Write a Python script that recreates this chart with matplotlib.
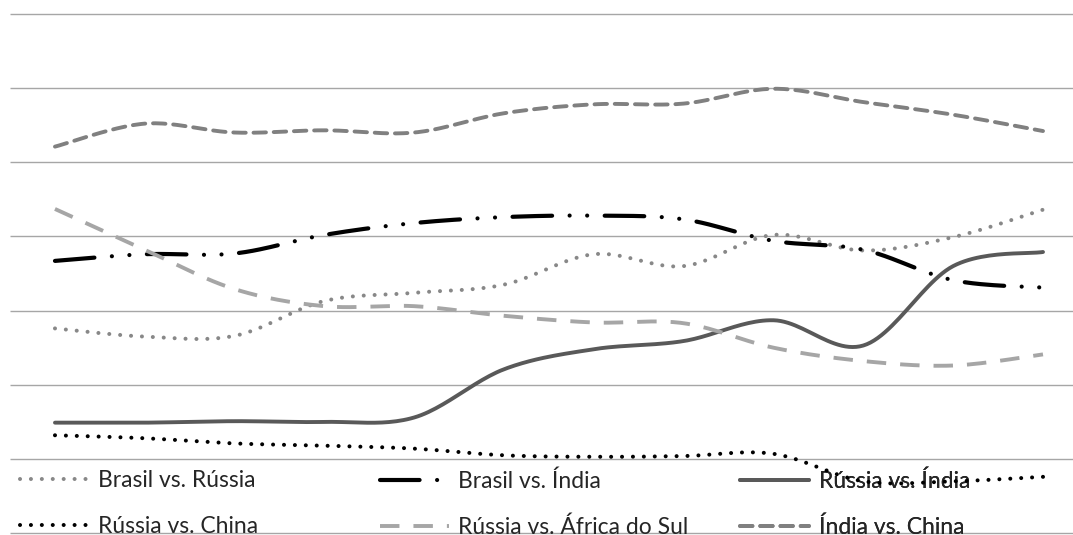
import matplotlib
matplotlib.use("Agg")
import matplotlib.pyplot as plt
import numpy as np

# 12 pontos por série (sem rótulos de categoria visíveis)
n_pts = 12
brasil_russia = [1.76, 1.65, 1.66, 2.13, 2.24, 2.35, 2.76, 2.60, 3.02, 2.81, 2.99, 3.36]
brasil_india = [2.67, 2.76, 2.77, 3.02, 3.18, 3.26, 3.28, 3.23, 2.94, 2.82, 2.41, 2.31]
russia_india = [0.49, 0.49, 0.51, 0.50, 0.56, 1.21, 1.48, 1.59, 1.87, 1.53, 2.60, 2.79]
russia_china = [0.32, 0.28, 0.21, 0.18, 0.14, 0.05, 0.03, 0.04, 0.07, -0.30, -0.30, -0.24]
russia_africa = [3.37, 2.82, 2.29, 2.06, 2.06, 1.93, 1.84, 1.83, 1.50, 1.32, 1.26, 1.41]
india_china = [4.21, 4.52, 4.40, 4.43, 4.40, 4.66, 4.78, 4.79, 4.99, 4.81, 4.64, 4.42]
grid_levels = [-1, 0, 1, 2, 3, 4, 5, 6]


def smooth(y, steps=25):
    # curva suavizada tipo Catmull-Rom, como a opção "linha suavizada"
    x = np.arange(len(y), dtype=float)
    y = np.asarray(y, dtype=float)
    px = np.concatenate([[x[0]], x, [x[-1]]])
    py = np.concatenate([[y[0]], y, [y[-1]]])
    xs, ys = [], []
    t = np.linspace(0, 1, steps, endpoint=False)
    h00 = 2 * t**3 - 3 * t**2 + 1
    h10 = t**3 - 2 * t**2 + t
    h01 = -2 * t**3 + 3 * t**2
    h11 = t**3 - t**2
    for i in range(len(y) - 1):
        mx0 = (px[i + 2] - px[i]) / 2
        mx1 = (px[i + 3] - px[i + 1]) / 2
        my0 = (py[i + 2] - py[i]) / 2
        my1 = (py[i + 3] - py[i + 1]) / 2
        xs.append(h00 * x[i] + h10 * mx0 + h01 * x[i + 1] + h11 * mx1)
        ys.append(h00 * y[i] + h10 * my0 + h01 * y[i + 1] + h11 * my1)
    xs.append([x[-1]])
    ys.append([y[-1]])
    return np.concatenate(xs), np.concatenate(ys)


plt.rcParams["font.family"] = ["Lato", "DejaVu Sans"]
fig = plt.figure(figsize=(10.73, 5.35), dpi=100)
ax = fig.add_axes([0, 0, 1, 1])
ax.set_xlim(-0.612, 11.334)
ax.set_ylim(-1.024, 6.186)
ax.axis("off")

ax.hlines(grid_levels, -0.5, 11.5, color="#a6a6a6", lw=1.0, zorder=1)

series = [
    ("Brasil vs. Rússia", brasil_russia, "#888888", 2.9, (0, (0.01, 2.7)), "round"),
    ("Brasil vs. Índia", brasil_india, "#000000", 3.0, (0, (9.5, 4.2, 0.01, 4.2, 0.01, 4.2)), "round"),
    ("Rússia vs. Índia", russia_india, "#595959", 2.8, "-", "round"),
    ("Rússia vs. China", russia_china, "#000000", 2.9, (0, (0.01, 2.7)), "round"),
    ("Rússia vs. África do Sul", russia_africa, "#a6a6a6", 2.8, (0, (5.0, 3.6)), "butt"),
    ("Índia vs. China", india_china, "#808080", 2.8, (0, (3.2, 2.0)), "round"),
]

handles = {}
for label, vals, color, lw, ls, cap in series:
    sx, sy = smooth(vals)
    (line,) = ax.plot(sx, sy, color=color, lw=lw, linestyle=ls,
                      dash_capstyle=cap, solid_capstyle="round",
                      clip_on=False, zorder=3, label=label)
    handles[label] = line

columns = [
    (["Brasil vs. Rússia", "Rússia vs. China"], 0.0186),
    (["Brasil vs. Índia", "Rússia vs. África do Sul"], 0.354),
    (["Rússia vs. Índia", "Índia vs. China"], 0.690),
]
for labels, xpos in columns:
    leg = ax.legend([handles[l] for l in labels], labels,
                    loc="upper left", bbox_to_anchor=(xpos, 0.121),
                    bbox_transform=fig.transFigure, frameon=False,
                    fontsize=16.5, handlelength=3.0, handletextpad=0.42,
                    labelspacing=1.1, borderpad=0, borderaxespad=0)
    leg.set_zorder(2)
    for t in leg.get_texts():
        t.set_color("#262626")
    ax.add_artist(leg)

fig.savefig("out.png", dpi=100)
